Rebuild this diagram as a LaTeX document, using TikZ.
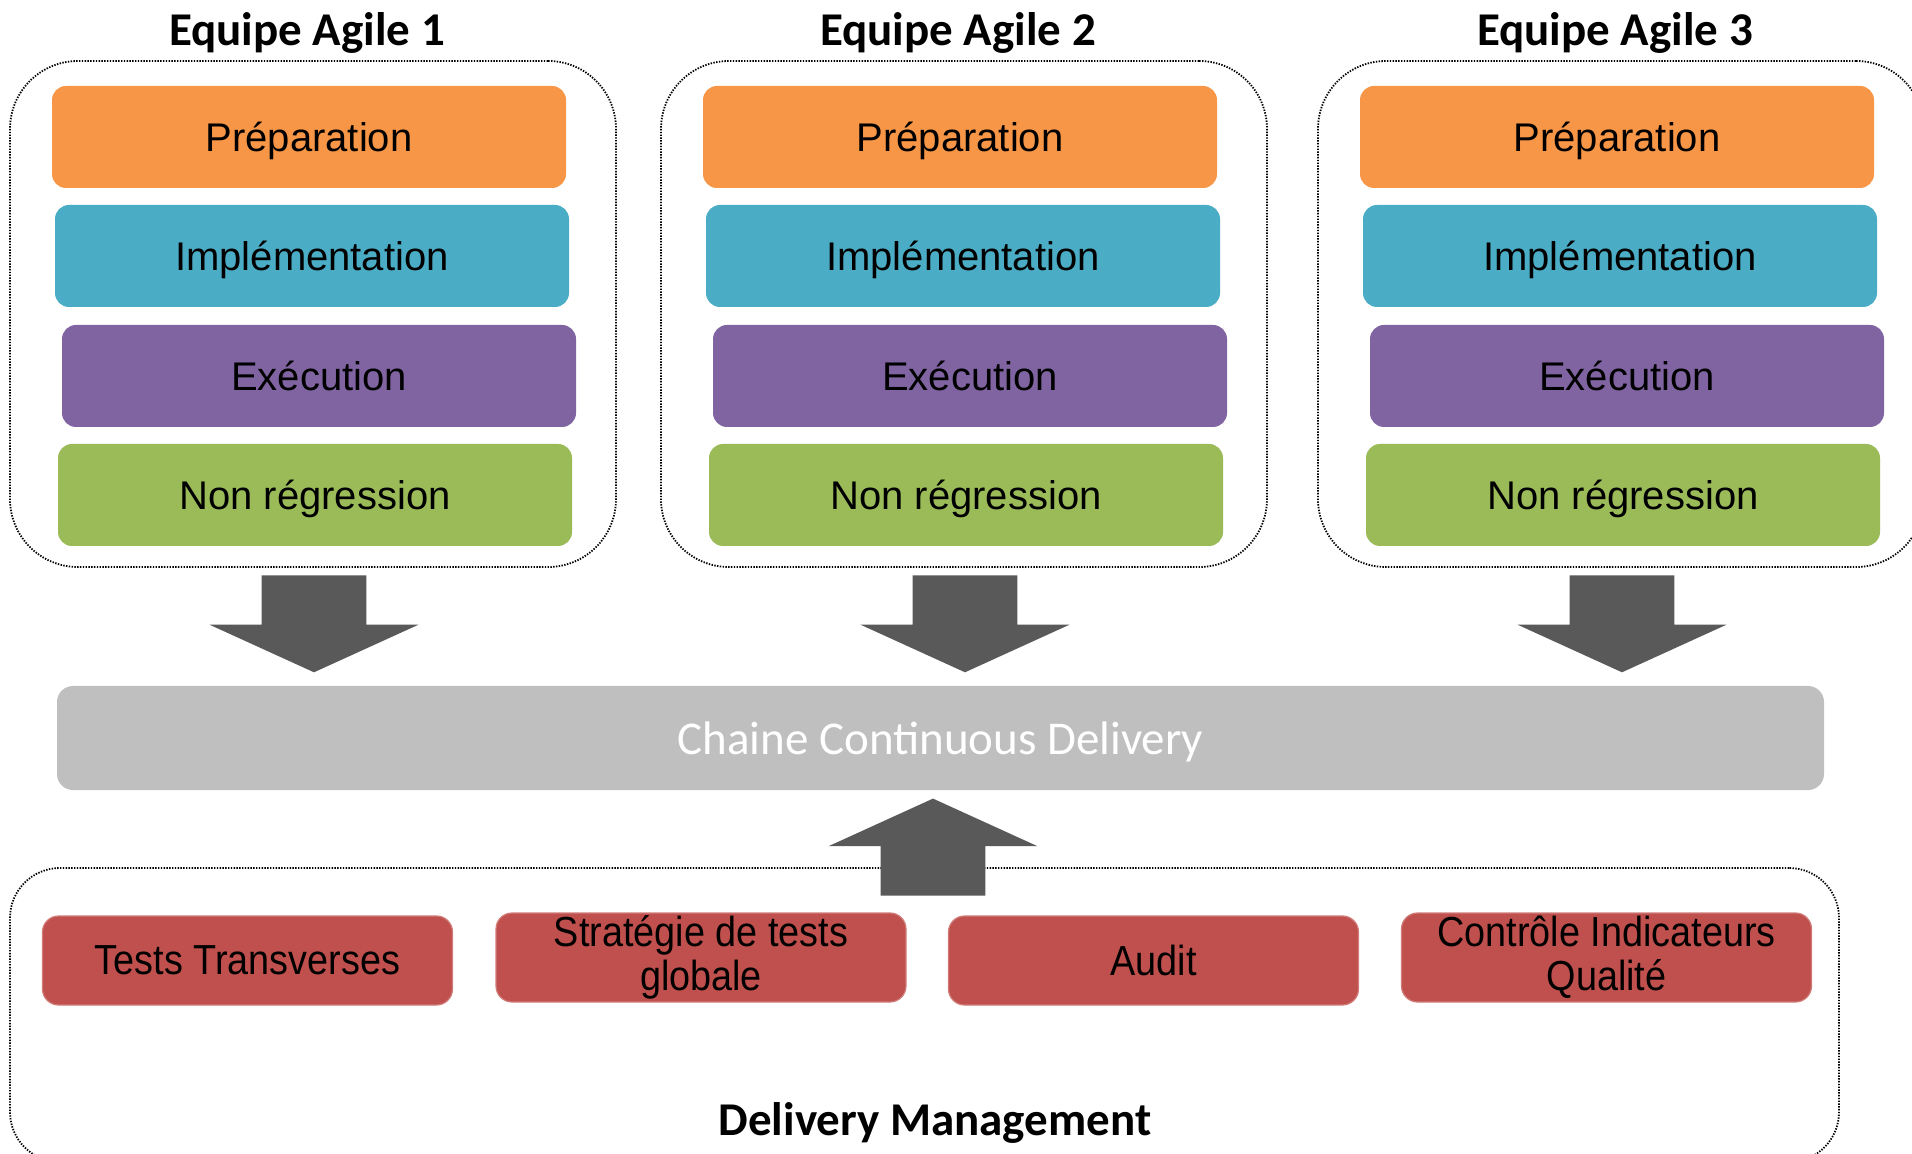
\documentclass[tikz,border=0pt]{standalone}
\usepackage{fontspec}
\setmainfont{Liberation Sans}
\newfontfamily\calibri{Carlito}
\newfontfamily\narrowarial[FakeStretch=0.9]{Liberation Sans}
\usetikzlibrary{shapes.arrows,calc}

\definecolor{prepcol}{HTML}{F79646}
\definecolor{implcol}{HTML}{4BACC6}
\definecolor{execcol}{HTML}{8064A2}
\definecolor{nrcol}{HTML}{9BBB59}
\definecolor{mgmtcol}{HTML}{C0504D}
\definecolor{chaincol}{HTML}{BFBFBF}
\definecolor{arrowcol}{HTML}{595959}

\tikzset{
  dotbox/.style={draw, line width=0.9pt, dash pattern=on 0.7pt off 0.7pt},
  teambox/.style={dotbox, rounded corners=34pt, minimum width=303pt, minimum height=253pt},
  teamtitle/.style={font=\calibri\bfseries\fontsize{23.5}{28}\selectfont, inner sep=0pt},
  phase/.style={rounded corners=7pt, minimum width=257pt, minimum height=51pt,
    inner sep=0pt, text depth=0pt, font=\fontsize{20}{24}\selectfont},
  mgmt/.style={fill=mgmtcol, draw=mgmtcol!75!white, line width=0.6pt, rounded corners=8pt,
    minimum width=205pt, minimum height=44.5pt, inner sep=0pt, align=center,
    font=\narrowarial\fontsize{21}{22}\selectfont},
  blockarrow/.style={single arrow, fill=arrowcol, draw=none, inner sep=0pt, inner ysep=26pt,
    minimum height=48.5pt, single arrow head extend=26pt, single arrow tip angle=131}
}

\begin{document}
\begin{tikzpicture}[x=0.5pt,y=-0.5pt]
\useasboundingbox (0,0) rectangle (1912,1154);

% chaine de livraison
\node[fill=chaincol, rounded corners=8pt, minimum width=883.5pt, minimum height=52pt,
  text depth=0pt, text=white, font=\calibri\fontsize{23.5}{28}\selectfont] (chain) at (940.5,738)
  {Chaine Continuous Delivery};

% les trois equipes
\foreach \n/\dx in {1/0,2/651,3/1308} {
  \node[teambox] (team\n) at (313+\dx,314) {};
  \node[teamtitle] (title\n) at (307+\dx,33) {Equipe Agile \n};
  \node[phase, fill=prepcol] (prep\n) at (309+\dx,137) {Préparation};
  \node[phase, fill=implcol] (impl\n) at (312+\dx,256) {Implémentation};
  \node[phase, fill=execcol] (exec\n) at (319+\dx,376) {Exécution};
  \node[phase, fill=nrcol] (nonreg\n) at (315+\dx,495) {Non régression};
  \node[blockarrow, rotate=-90, anchor=tail] (down\n) at ($(team\n.south)+(1,7)$) {};
}

% delivery management
\node[dotbox, rounded corners=25pt, minimum width=914.5pt, minimum height=147pt]
  (dm) at (924.5,1015) {};
\node[teamtitle] (dmtitle) at (935,1123) {Delivery Management};

\node[mgmt] (tests) at (247.5,960.5) {Tests Transverses};
\node[mgmt] (strat) at (701,957.5) {Stratégie de tests\\globale};
\node[mgmt] (audit) at (1153.5,960.5) {Audit};
\node[mgmt] (qualite) at (1606.5,957.5) {Contrôle Indicateurs\\Qualité};

\node[blockarrow, rotate=90, anchor=tail] (up) at (933,896) {};

\end{tikzpicture}
\end{document}
